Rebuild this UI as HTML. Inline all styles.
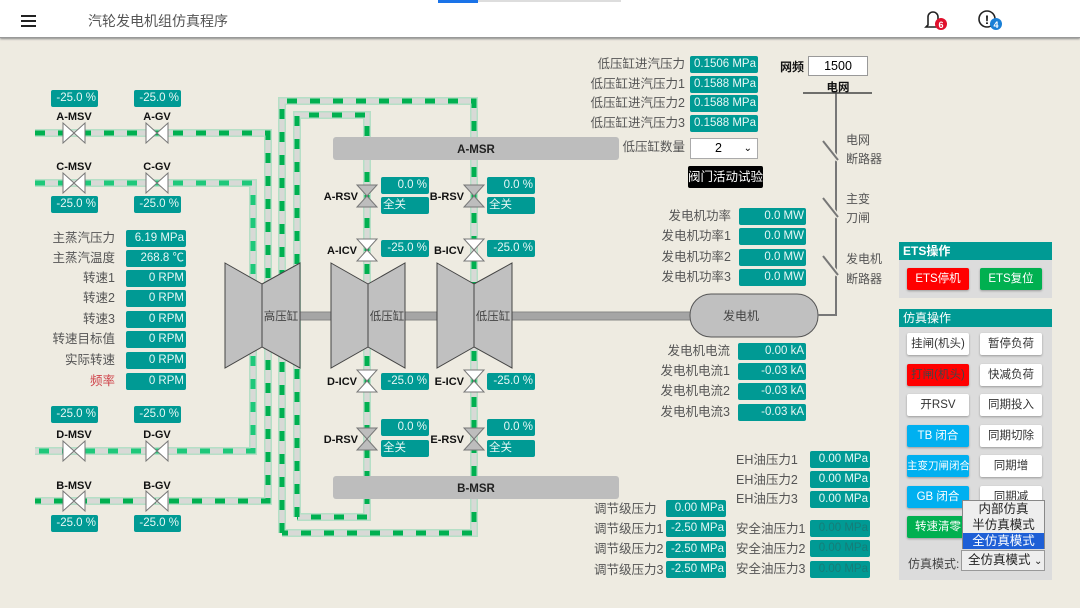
<!DOCTYPE html>
<html><head><meta charset="utf-8">
<style>
*{margin:0;padding:0;box-sizing:border-box}
body{width:1080px;height:608px;overflow:hidden;background:#eeebe1;font-family:"Liberation Sans","Noto Sans CJK SC",sans-serif;position:relative}
.hdr{position:absolute;left:0;top:0;width:1080px;height:38px;background:#fff;box-shadow:0 1px 2px #888;border-bottom:1px solid #999}
.a{position:absolute}
.v{position:absolute;background:#009a94;color:#e6f7f5;font-size:11.5px;text-align:right;padding-right:2px;line-height:17px;height:17px;border-radius:2px;white-space:nowrap;overflow:hidden}
.l{position:absolute;font-size:12.5px;color:#555;white-space:nowrap;line-height:17px}
.r{text-align:right}
.btn{position:absolute;width:62px;height:22px;font-size:11.5px;line-height:22px;text-align:center;background:#fff;color:#333;box-shadow:0 1px 2px #999;border-radius:2px;white-space:nowrap;overflow:hidden}
.ph{position:absolute;left:899px;width:153px;height:18px;background:#009a94;color:#fff;font-size:12px;line-height:18px;padding-left:4px}
.pb{position:absolute;left:899px;width:153px;background:#dcdcdc}
</style></head><body>
<div class="hdr"></div>
<div class="a" style="left:438px;top:0;width:40px;height:3px;background:#1a73e8"></div>
<div class="a" style="left:478px;top:0;width:143px;height:2px;background:#ddd"></div>
<div class="a" style="left:21px;top:15px;width:15px;height:2px;background:#222;box-shadow:0 5px 0 #222,0 10px 0 #222"></div>
<div class="a" style="left:88px;top:11px;font-size:14px;color:#555">汽轮发电机组仿真程序</div>
<svg class="a" style="left:920px;top:8px" width="100" height="26">
<path d="M8 17 L8 9 A5 5 0 0 1 18 9 L18 17 L20 19 L6 19 Z" fill="none" stroke="#222" stroke-width="1.6"/>
<circle cx="21" cy="16" r="6" fill="#e0102c"/><text x="21" y="20" font-size="9" fill="#fff" text-anchor="middle" font-weight="bold">6</text>
<circle cx="67" cy="11" r="8" fill="none" stroke="#222" stroke-width="1.6"/><text x="67" y="16" font-size="12" font-weight="bold" text-anchor="middle">!</text>
<circle cx="76" cy="16" r="6" fill="#1a7fd6"/><text x="76" y="20" font-size="9" fill="#fff" text-anchor="middle" font-weight="bold">4</text>
</svg>

<svg class="a" style="left:0;top:0" width="1080" height="608">
<g fill="none" stroke-linejoin="miter">
<g stroke="#b5dfc6" stroke-width="8">
<polyline points="35,133 268,133 268,501 35,501"/>
<polyline points="35,183 253,183 253,451 35,451"/>
<polyline points="282,533 282,101 474,101 474,533 282,533"/>
<polyline points="297,517 297,115 367,115 367,517 297,517"/>
</g>
<g stroke="#d8d9d6" stroke-width="5">
<polyline points="35,133 268,133 268,501 35,501"/>
<polyline points="35,183 253,183 253,451 35,451"/>
<polyline points="282,533 282,101 474,101 474,533 282,533"/>
<polyline points="297,517 297,115 367,115 367,517 297,517"/>
</g>
<g stroke="#00b050" stroke-width="5" stroke-dasharray="10 13">
<polyline points="35,133 268,133 268,501 35,501"/>
<polyline points="282,533 282,101 474,101 474,533 282,533"/>
<polyline points="297,517 297,115 367,115 367,517 297,517"/>
</g>
<g stroke="#1ec87a" stroke-width="5" stroke-dasharray="10 13">
<polyline points="35,183 253,183 253,451 35,451"/>
</g>
</g>
<rect x="333" y="137" width="286" height="23" rx="3" fill="#bdbdbd"/>
<text x="476" y="153" font-size="11.5" font-weight="bold" text-anchor="middle" fill="#222">A-MSR</text>
<rect x="333" y="476" width="286" height="23" rx="3" fill="#bdbdbd"/>
<text x="476" y="492" font-size="11.5" font-weight="bold" text-anchor="middle" fill="#222">B-MSR</text>
<rect x="300" y="312" width="392" height="8" fill="#a5a5a5" stroke="#888"/>
<g fill="#c0c0c0" stroke="#444" stroke-width="1">
<polygon points="225,263 262,284 262,347 225,368"/><polygon points="262,284 300,263 300,368 262,347"/>
<polygon points="331,263 368,284 368,347 331,368"/><polygon points="368,284 405,263 405,368 368,347"/>
<polygon points="437,263 474,284 474,347 437,368"/><polygon points="474,284 512,263 512,368 474,347"/>
</g>
<g font-size="11.5" fill="#444" text-anchor="middle">
<text x="281" y="320">高压缸</text><text x="387" y="320">低压缸</text><text x="493" y="320">低压缸</text>
</g>
<rect x="690" y="294" width="128" height="43" rx="21" fill="#c0c0c0" stroke="#555"/>
<text x="741" y="320" font-size="12" fill="#444" text-anchor="middle">发电机</text>
<g stroke="#777" stroke-width="2" fill="none">
<polyline points="818,315 836,315 836,93"/>
<line x1="803" y1="93" x2="872" y2="93" stroke="#444" stroke-width="1.5"/>
<line x1="823" y1="141" x2="838" y2="160" stroke="#eeebe1" stroke-width="5"/>
<line x1="823" y1="141" x2="838" y2="160"/>
<line x1="823" y1="198" x2="838" y2="217" stroke="#eeebe1" stroke-width="5"/>
<line x1="823" y1="198" x2="838" y2="217"/>
<line x1="823" y1="256" x2="838" y2="275" stroke="#eeebe1" stroke-width="5"/>
<line x1="823" y1="256" x2="838" y2="275"/>
</g>
<g font-size="12" fill="#555">
<text x="846" y="144">电网</text><text x="846" y="163">断路器</text>
<text x="846" y="203">主变</text><text x="846" y="222">刀闸</text>
<text x="846" y="263">发电机</text><text x="846" y="283">断路器</text>
</g>
<text x="838" y="91" font-size="11.5" font-weight="bold" text-anchor="middle" fill="#111">电网</text>
<g fill="#fff" stroke="#777" stroke-width="1">
<g transform="translate(74,133)"><polygon points="-11,-10 -11,10 0,0"/><polygon points="11,-10 11,10 0,0"/></g>
<g transform="translate(157,133)"><polygon points="-11,-10 -11,10 0,0"/><polygon points="11,-10 11,10 0,0"/></g>
<g transform="translate(74,183)"><polygon points="-11,-10 -11,10 0,0"/><polygon points="11,-10 11,10 0,0"/></g>
<g transform="translate(157,183)"><polygon points="-11,-10 -11,10 0,0"/><polygon points="11,-10 11,10 0,0"/></g>
<g transform="translate(74,451)"><polygon points="-11,-10 -11,10 0,0"/><polygon points="11,-10 11,10 0,0"/></g>
<g transform="translate(157,451)"><polygon points="-11,-10 -11,10 0,0"/><polygon points="11,-10 11,10 0,0"/></g>
<g transform="translate(74,501)"><polygon points="-11,-10 -11,10 0,0"/><polygon points="11,-10 11,10 0,0"/></g>
<g transform="translate(157,501)"><polygon points="-11,-10 -11,10 0,0"/><polygon points="11,-10 11,10 0,0"/></g>
</g>
<g stroke="#777" stroke-width="1">
<g fill="#bdbdbd" transform="translate(367,196)"><polygon points="-10,-11 10,-11 0,0"/><polygon points="-10,11 10,11 0,0"/></g>
<g fill="#bdbdbd" transform="translate(474,196)"><polygon points="-10,-11 10,-11 0,0"/><polygon points="-10,11 10,11 0,0"/></g>
<g fill="#fff" transform="translate(367,250)"><polygon points="-10,-11 10,-11 0,0"/><polygon points="-10,11 10,11 0,0"/></g>
<g fill="#fff" transform="translate(474,250)"><polygon points="-10,-11 10,-11 0,0"/><polygon points="-10,11 10,11 0,0"/></g>
<g fill="#fff" transform="translate(367,381)"><polygon points="-10,-11 10,-11 0,0"/><polygon points="-10,11 10,11 0,0"/></g>
<g fill="#fff" transform="translate(474,381)"><polygon points="-10,-11 10,-11 0,0"/><polygon points="-10,11 10,11 0,0"/></g>
<g fill="#bdbdbd" transform="translate(367,439)"><polygon points="-10,-11 10,-11 0,0"/><polygon points="-10,11 10,11 0,0"/></g>
<g fill="#bdbdbd" transform="translate(474,439)"><polygon points="-10,-11 10,-11 0,0"/><polygon points="-10,11 10,11 0,0"/></g>
</g>
<g font-size="11" font-weight="bold" fill="#111" text-anchor="middle">
<text x="74" y="120">A-MSV</text><text x="157" y="120">A-GV</text>
<text x="74" y="170">C-MSV</text><text x="157" y="170">C-GV</text>
<text x="74" y="438">D-MSV</text><text x="157" y="438">D-GV</text>
<text x="74" y="489">B-MSV</text><text x="157" y="489">B-GV</text>
</g>
<g font-size="11" font-weight="bold" fill="#111" text-anchor="end">
<text x="358" y="200">A-RSV</text><text x="464" y="200">B-RSV</text>
<text x="357" y="254">A-ICV</text><text x="464" y="254">B-ICV</text>
<text x="357" y="385">D-ICV</text><text x="464" y="385">E-ICV</text>
<text x="358" y="443">D-RSV</text><text x="464" y="443">E-RSV</text>
</g>
</svg>

<div class="v" style="left:51px;top:90px;width:47px">-25.0 %</div>
<div class="v" style="left:134px;top:90px;width:47px">-25.0 %</div>
<div class="v" style="left:51px;top:196px;width:47px">-25.0 %</div>
<div class="v" style="left:134px;top:196px;width:47px">-25.0 %</div>
<div class="v" style="left:51px;top:406px;width:47px">-25.0 %</div>
<div class="v" style="left:134px;top:406px;width:47px">-25.0 %</div>
<div class="v" style="left:51px;top:515px;width:47px">-25.0 %</div>
<div class="v" style="left:134px;top:515px;width:47px">-25.0 %</div>

<div class="l r" style="right:965px;top:230px">主蒸汽压力</div><div class="v" style="left:126px;top:230px;width:60px">6.19 MPa</div>
<div class="l r" style="right:965px;top:250px">主蒸汽温度</div><div class="v" style="left:126px;top:250px;width:60px">268.8 ℃</div>
<div class="l r" style="right:965px;top:270px">转速1</div><div class="v" style="left:126px;top:270px;width:60px">0 RPM</div>
<div class="l r" style="right:965px;top:290px">转速2</div><div class="v" style="left:126px;top:290px;width:60px">0 RPM</div>
<div class="l r" style="right:965px;top:311px">转速3</div><div class="v" style="left:126px;top:311px;width:60px">0 RPM</div>
<div class="l r" style="right:965px;top:331px">转速目标值</div><div class="v" style="left:126px;top:331px;width:60px">0 RPM</div>
<div class="l r" style="right:965px;top:352px">实际转速</div><div class="v" style="left:126px;top:352px;width:60px">0 RPM</div>
<div class="l r" style="right:965px;top:373px;color:#d0454c">频率</div><div class="v" style="left:126px;top:373px;width:60px">0 RPM</div>

<div class="v" style="left:381px;top:177px;width:48px">0.0 %</div>
<div class="v" style="left:381px;top:197px;width:48px;text-align:left;padding-left:2px">全关</div>
<div class="v" style="left:381px;top:240px;width:48px">-25.0 %</div>
<div class="v" style="left:381px;top:373px;width:48px">-25.0 %</div>
<div class="v" style="left:381px;top:419px;width:48px">0.0 %</div>
<div class="v" style="left:381px;top:440px;width:48px;text-align:left;padding-left:2px">全关</div>
<div class="v" style="left:487px;top:177px;width:48px">0.0 %</div>
<div class="v" style="left:487px;top:197px;width:48px;text-align:left;padding-left:2px">全关</div>
<div class="v" style="left:487px;top:240px;width:48px">-25.0 %</div>
<div class="v" style="left:487px;top:373px;width:48px">-25.0 %</div>
<div class="v" style="left:487px;top:419px;width:48px">0.0 %</div>
<div class="v" style="left:487px;top:440px;width:48px;text-align:left;padding-left:2px">全关</div>

<div class="l r" style="right:395px;top:56px">低压缸进汽压力</div><div class="v" style="left:690px;top:56px;width:68px">0.1506 MPa</div>
<div class="l r" style="right:395px;top:76px">低压缸进汽压力1</div><div class="v" style="left:690px;top:76px;width:68px">0.1588 MPa</div>
<div class="l r" style="right:395px;top:95px">低压缸进汽压力2</div><div class="v" style="left:690px;top:95px;width:68px">0.1588 MPa</div>
<div class="l r" style="right:395px;top:115px">低压缸进汽压力3</div><div class="v" style="left:690px;top:115px;width:68px">0.1588 MPa</div>
<div class="l r" style="right:395px;top:139px">低压缸数量</div>
<div class="a" style="left:690px;top:138px;width:68px;height:21px;background:#fff;border:1px solid #aaa;font-size:12.5px;line-height:19px;padding-left:24px">2<span style="position:absolute;right:5px;font-size:10px">⌄</span></div>
<div class="a" style="left:688px;top:166px;width:75px;height:22px;background:#000;color:#fff;font-size:12.5px;line-height:22px;text-align:center;border-radius:2px">阀门活动试验</div>
<div class="a" style="left:780px;top:58px;font-size:12px;font-weight:bold;color:#111">网频</div>
<div class="a" style="left:808px;top:56px;width:60px;height:20px;background:#fff;border:1px solid #999;font-size:12.5px;line-height:18px;text-align:center">1500</div>

<div class="l r" style="right:349px;top:208px">发电机功率</div><div class="v" style="left:739px;top:208px;width:67px">0.0 MW</div>
<div class="l r" style="right:349px;top:228px">发电机功率1</div><div class="v" style="left:739px;top:228px;width:67px">0.0 MW</div>
<div class="l r" style="right:349px;top:249px">发电机功率2</div><div class="v" style="left:739px;top:249px;width:67px">0.0 MW</div>
<div class="l r" style="right:349px;top:269px">发电机功率3</div><div class="v" style="left:739px;top:269px;width:67px">0.0 MW</div>

<div class="l r" style="right:350px;top:343px">发电机电流</div><div class="v" style="left:738px;top:343px;width:68px">0.00 kA</div>
<div class="l r" style="right:350px;top:363px">发电机电流1</div><div class="v" style="left:738px;top:363px;width:68px">-0.03 kA</div>
<div class="l r" style="right:350px;top:383px">发电机电流2</div><div class="v" style="left:738px;top:383px;width:68px">-0.03 kA</div>
<div class="l r" style="right:350px;top:404px">发电机电流3</div><div class="v" style="left:738px;top:404px;width:68px">-0.03 kA</div>

<div class="l" style="left:736px;top:452px">EH油压力1</div><div class="v" style="left:810px;top:451px;width:60px">0.00 MPa</div>
<div class="l" style="left:736px;top:472px">EH油压力2</div><div class="v" style="left:810px;top:471px;width:60px">0.00 MPa</div>
<div class="l" style="left:736px;top:491px">EH油压力3</div><div class="v" style="left:810px;top:491px;width:60px">0.00 MPa</div>
<div class="l" style="left:736px;top:521px">安全油压力1</div><div class="v" style="left:810px;top:520px;width:60px;color:#167d78">0.00 MPa</div>
<div class="l" style="left:736px;top:541px">安全油压力2</div><div class="v" style="left:810px;top:540px;width:60px;color:#167d78">0.00 MPa</div>
<div class="l" style="left:736px;top:561px">安全油压力3</div><div class="v" style="left:810px;top:561px;width:60px;color:#167d78">0.00 MPa</div>

<div class="l" style="left:594px;top:501px">调节级压力</div><div class="v" style="left:666px;top:500px;width:60px">0.00 MPa</div>
<div class="l" style="left:594px;top:521px">调节级压力1</div><div class="v" style="left:666px;top:520px;width:60px">-2.50 MPa</div>
<div class="l" style="left:594px;top:541px">调节级压力2</div><div class="v" style="left:666px;top:541px;width:60px">-2.50 MPa</div>
<div class="l" style="left:594px;top:562px">调节级压力3</div><div class="v" style="left:666px;top:561px;width:60px">-2.50 MPa</div>

<div class="ph" style="top:242px;font-weight:bold">ETS操作</div>
<div class="pb" style="top:260px;height:38px"></div>
<div class="btn" style="left:907px;top:268px;background:#f00;color:#fff">ETS停机</div>
<div class="btn" style="left:980px;top:268px;background:#00b050;color:#fff">ETS复位</div>
<div class="ph" style="top:309px">仿真操作</div>
<div class="pb" style="top:327px;height:253px"></div>
<div class="btn" style="left:907px;top:333px">挂闸(机头)</div><div class="btn" style="left:980px;top:333px">暂停负荷</div>
<div class="btn" style="left:907px;top:364px;background:#f00;color:#444">打闸(机头)</div><div class="btn" style="left:980px;top:364px">快减负荷</div>
<div class="btn" style="left:907px;top:394px">开RSV</div><div class="btn" style="left:980px;top:394px">同期投入</div>
<div class="btn" style="left:907px;top:425px;background:#00b0f0;color:#fff">TB 闭合</div><div class="btn" style="left:980px;top:425px">同期切除</div>
<div class="btn" style="left:907px;top:455px;background:#00b0f0;color:#fff;font-size:10.5px">主变刀闸闭合</div><div class="btn" style="left:980px;top:455px">同期增</div>
<div class="btn" style="left:907px;top:486px;background:#00b0f0;color:#fff">GB 闭合</div><div class="btn" style="left:980px;top:486px">同期减</div>
<div class="btn" style="left:907px;top:516px;background:#00b050;color:#fff">转速清零</div>
<div class="a" style="left:908px;top:555px;font-size:12px;color:#444">仿真模式:</div>
<div class="a" style="left:961px;top:550px;width:84px;height:21px;background:#eee;border:1px solid #999;font-size:12.5px;line-height:19px;padding-left:6px;color:#222">全仿真模式 <span style="font-size:10px">⌄</span></div>
<div class="a" style="left:962px;top:500px;width:83px;height:49px;background:#eee;border:1px solid #888;font-size:12.5px;line-height:16px;text-align:center;color:#222">
<div>内部仿真</div><div>半仿真模式</div><div style="background:#1e5fd6;color:#fff">全仿真模式</div></div>
</body></html>
